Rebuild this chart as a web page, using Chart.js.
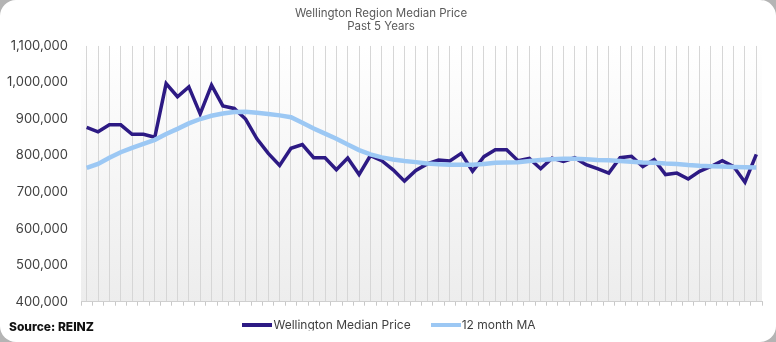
<!DOCTYPE html>
<html>
<head>
<meta charset="utf-8">
<script src="https://cdn.jsdelivr.net/npm/chart.js@4/dist/chart.umd.min.js"></script>
<style>
  html, body { margin: 0; padding: 0; background: #b4b4b4; }
  #card { position: absolute; left: 0; top: 0; width: 776px; height: 342px; background: #ffffff; border-radius: 16px; overflow: hidden; }
  #wrap { position: absolute; left: 0; top: 0; width: 776px; height: 342px; }
  #source { position: absolute; left: 9px; top: 319px; font-family: Inter, "Open Sans", sans-serif; font-weight: 800; font-size: 12px; color: #111; }
</style>
</head>
<body>
<div id="card">
  <div id="wrap"><canvas id="c" width="776" height="342"></canvas></div>
  <div id="source">Source: REINZ</div>
</div>
<script>
const titleLines = ['Wellington Region Median Price', 'Past 5 Years'];
const seriesNames = ['Wellington Median Price', '12 month MA'];
const months = [
  'Jan-21','Feb-21','Mar-21','Apr-21','May-21','Jun-21','Jul-21','Aug-21','Sep-21','Oct-21','Nov-21','Dec-21',
  'Jan-22','Feb-22','Mar-22','Apr-22','May-22','Jun-22','Jul-22','Aug-22','Sep-22','Oct-22','Nov-22','Dec-22',
  'Jan-23','Feb-23','Mar-23','Apr-23','May-23','Jun-23','Jul-23','Aug-23','Sep-23','Oct-23','Nov-23','Dec-23',
  'Jan-24','Feb-24','Mar-24','Apr-24','May-24','Jun-24','Jul-24','Aug-24','Sep-24','Oct-24','Nov-24','Dec-24',
  'Jan-25','Feb-25','Mar-25','Apr-25','May-25','Jun-25','Jul-25','Aug-25','Sep-25','Oct-25','Nov-25','Dec-25'
];
const medianPrice = [
  877000, 865000, 884000, 884000, 858000, 858000, 850000, 997000, 961000, 988000, 914000, 993000,
  936000, 929000, 900000, 846000, 806000, 773000, 820000, 830000, 794000, 794000, 761000, 793000,
  748000, 800000, 786000, 761000, 730000, 759000, 777000, 788000, 785000, 806000, 757000, 797000,
  816000, 816000, 786000, 792000, 764000, 793000, 784000, 794000, 775000, 764000, 752000, 794000,
  798000, 770000, 789000, 748000, 752000, 736000, 757000, 770000, 786000, 770000, 727000, 803000
];
const movingAvg = [
  766000, 777000, 794000, 809000, 821000, 832000, 843000, 859000, 873000, 888000, 900000, 909000,
  915000, 919000, 920000, 917000, 914000, 910000, 905000, 890000, 874000, 860000, 846000, 830000,
  815000, 803000, 795000, 789000, 785000, 782000, 778000, 776000, 775000, 775000, 775000, 777000,
  780000, 781000, 782000, 785000, 788000, 790000, 791000, 791000, 790000, 788000, 787000, 785000,
  783000, 781000, 780000, 778000, 777000, 774000, 772000, 771000, 770000, 769000, 768000, 767000
];
const yMin = 400000, yMax = 1100000, yStep = 100000;

const FONT = 'Inter, "Open Sans", sans-serif';
const DARK = '#2d1a84', LIGHT = '#9cc8f4';

// Legend swatch: a short thick line segment.
function swatch(color) {
  const c = document.createElement('canvas');
  c.width = 30; c.height = 4;
  const x = c.getContext('2d');
  x.fillStyle = color;
  x.fillRect(0, 0, 30, 4);
  return c;
}

const bgPlugin = {
  id: 'plotBg',
  beforeDraw(chart) {
    const a = chart.chartArea, ctx = chart.ctx;
    const g = ctx.createLinearGradient(0, a.top, 0, a.bottom);
    g.addColorStop(0, '#ffffff');
    g.addColorStop(1, '#ededed');
    ctx.save();
    ctx.fillStyle = g;
    ctx.fillRect(a.left, a.top, a.right - a.left, a.bottom - a.top);
    ctx.restore();
  }
};

// Keep the legend's wide horizontal spacing but sit its row closer to the axis.
const legendTighten = {
  id: 'legendTighten',
  beforeInit(chart) {
    const L = chart.legend;
    if (!L) return;
    const origFit = L.fit.bind(L);
    L.fit = function () { origFit(); this.height -= 10.7; };
  },
  afterLayout(chart) {
    const L = chart.legend;
    if (!L) return;
    const pad = L.options.labels.padding;
    const fs = L.options.labels.font.size;
    const wantedCenter = chart.chartArea.bottom + 23.5;
    const dy = (wantedCenter - pad - fs / 2) - L.top;
    const dx = 10.5;
    L.top += dy; L.bottom += dy;
    L.left += dx; L.right += dx;
    if (L.legendHitBoxes) L.legendHitBoxes.forEach(h => { h.top += dy; h.left += dx; });
  }
};

new Chart(document.getElementById('c'), {
  type: 'line',
  data: {
    labels: months,
    datasets: [
      { label: seriesNames[0], data: medianPrice, borderColor: DARK, backgroundColor: DARK,
        borderWidth: 3.5, pointRadius: 0, pointStyle: swatch(DARK), tension: 0, order: 2, xAxisID: 'x' },
      { label: seriesNames[1], data: movingAvg, borderColor: LIGHT, backgroundColor: LIGHT,
        borderWidth: 4.5, pointRadius: 0, pointStyle: swatch(LIGHT), tension: 0, order: 1, xAxisID: 'x' }
    ]
  },
  options: {
    responsive: false,
    animation: false,
    devicePixelRatio: 1,
    layout: { padding: { left: 0, right: 14, top: 0, bottom: 0 } },
    plugins: {
      title: {
        display: true, text: titleLines, color: '#5a5a5a',
        font: { family: FONT, size: 11.5, weight: 'normal', lineHeight: 1.15 },
        padding: { top: 7, bottom: 12.5 }
      },
      legend: {
        display: true, position: 'bottom',
        labels: {
          usePointStyle: true, pointStyleWidth: 20,
          color: '#404040', padding: 25,
          font: { family: FONT, size: 12 },
          sort: (a, b) => a.datasetIndex - b.datasetIndex
        }
      },
      tooltip: { enabled: false }
    },
    scales: {
      x: {
        type: 'category', position: 'bottom', offset: true,
        grid: { display: true, offset: false, color: '#d6d6d6', lineWidth: 1, drawTicks: false },
        border: { display: true, color: '#cfcfcf' },
        ticks: { display: false }
      },
      x2: {
        type: 'category', position: 'bottom', offset: true, labels: months,
        grid: { display: true, offset: true, drawOnChartArea: false, drawTicks: true, tickLength: 4, color: '#c8c8c8' },
        border: { display: false },
        ticks: { display: false }
      },
      y: {
        min: yMin, max: yMax,
        grid: { display: false, drawTicks: false },
        border: { display: false },
        ticks: {
          stepSize: yStep, padding: 13, color: '#404040',
          font: { family: FONT, size: 13 },
          callback: v => Number(v).toLocaleString('en-US')
        },
        afterFit(scale) { scale.width = 81; }
      }
    }
  },
  plugins: [bgPlugin, legendTighten]
});
</script>
</body>
</html>
